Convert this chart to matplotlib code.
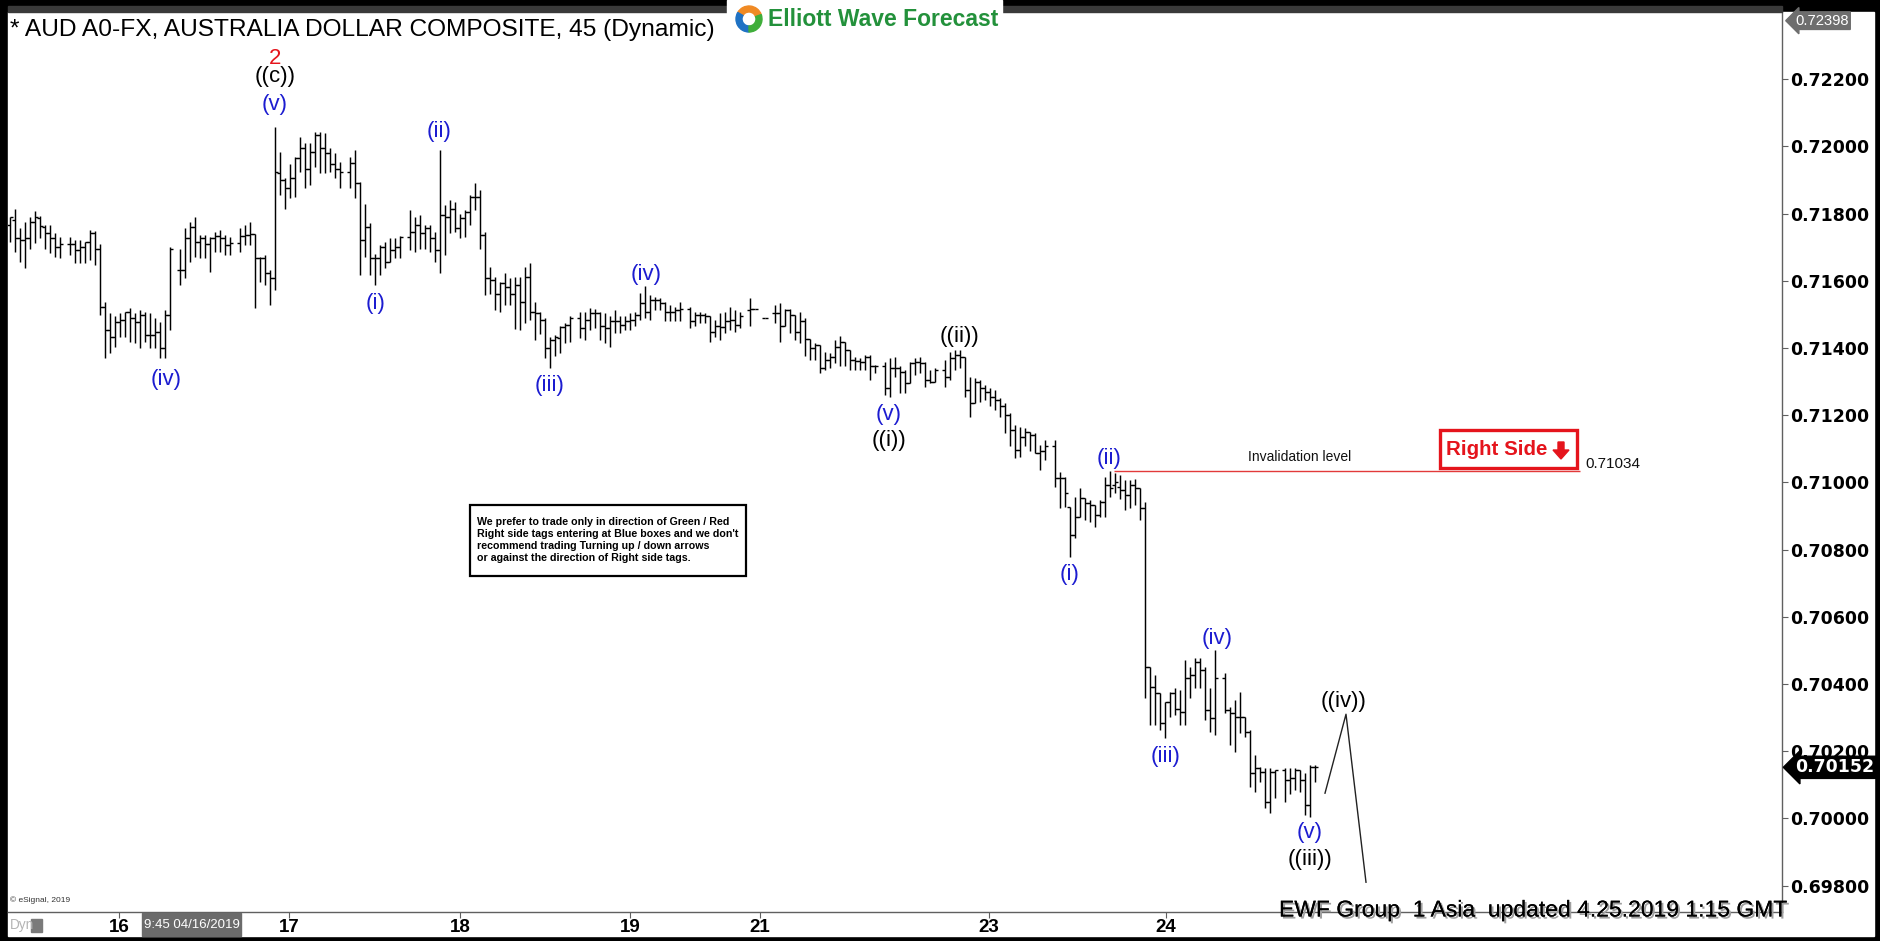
import matplotlib
matplotlib.use('Agg')
import matplotlib.pyplot as plt
import matplotlib.patheffects as pe
from matplotlib import font_manager
from matplotlib.patches import Rectangle, Polygon, Wedge
import numpy as np

W, H = 1881, 941

# 45 min OHLC bars, price x 1e5, None = empty slot
high_pts = [
    71791, 71815, 71756, 71776, 71791, 71807, 71793, 71766, 71766, 71741,
    71731, None, 71731, 71721, 71721, 71716, 71751, 71749, 71711, 71538,
    71503, 71495, 71503, 71508, 71518, 71503, 71513, 71508, 71503, 71488,
    71478, 71513, 71701, None, 71696, 71756, 71776, 71791, 71736, 71736,
    71731, 71746, 71751, 71736, 71731, None, 71756, 71766, 71776, 71739,
    71672, 71676, 71632, 72058, 71984, 71905, 71949, 71969, 72029, 72009,
    72009, 72044, 72044, 72039, 71994, 71979, 71954, None, 71969, 71989,
    71895, 71830, 71771, 71681, 71706, 71716, 71726, 71726, 71733, None,
    71810, 71791, 71796, 71766, 71766, 71746, 71989, 71825, 71840, 71835,
    71800, 71810, 71855, 71890, 71870, 71746, 71642, 71612, 71597, 71622,
    71607, 71612, 71612, 71642, 71652, 71538, 71508, 71488, 71433, 71439,
    71464, 71474, 71494, None, 71508, 71508, 71518, 71515, 71508, 71504,
    71494, 71513, 71494, 71494, 71504, 71508, 71563, 71585, 71558, 71553,
    71548, 71538, 71528, 71523, 71538, None, 71523, 71508, 71508, 71504,
    71494, 71484, 71504, 71508, 71523, 71513, 71508, None, 71548, 71515,
    None, 71489, None, 71528, 71533, 71515, 71515, 71499, 71508, 71489,
    71426, 71416, 71409, 71389, 71384, 71424, 71436, 71419, 71394, 71374,
    71369, 71379, 71379, 71350, None, 71359, 71369, 71374, 71345, 71335,
    71359, 71369, 71374, 71359, 71335, 71340, None, 71364, 71389, 71394,
    71394, 71374, 71315, 71310, 71305, 71290, 71280, 71275, 71250, 71235,
    71206, 71171, 71166, 71161, 71151, 71146, 71111, 71126, None, 71126,
    71032, 71017, 70928, 70958, 70983, 70953, 70948, 70933, 70948, 71017,
    71034, 71027, 71022, 71007, 71007, 71009, 70982, 70942, 70451, 70427,
    70372, 70347, 70377, 70387, 70382, 70471, 70451, 70476, 70476, 70451,
    70387, 70501, None, 70432, 70332, 70352, 70377, 70303, 70263, 70189,
    70154, 70149, 70149, 70144, None, 70149, 70149, 70149, 70144, 70134,
    70159, 70159,
]
low_pts = [
    71716, 71686, 71657, 71637, 71696, 71713, 71726, 71696, 71683, 71672,
    71667, None, 71676, 71654, 71654, 71654, 71662, 71647, 71498, 71369,
    71384, 71404, 71433, 71433, 71419, 71414, 71399, 71419, 71399, 71399,
    71369, 71369, 71453, None, 71587, 71607, 71657, 71672, 71667, 71667,
    71627, 71686, 71686, 71676, 71676, None, 71686, 71706, 71706, 71518,
    71597, 71587, 71528, 71572, 71855, 71815, 71845, 71850, 71924, 71875,
    71885, 71939, 71920, 71920, 71924, 71905, 71875, None, 71875, 71845,
    71617, 71672, 71617, 71587, 71617, 71637, 71657, 71667, 71667, None,
    71691, 71686, 71696, 71696, 71686, 71657, 71622, 71676, 71741, 71746,
    71726, 71731, 71766, 71810, 71696, 71557, 71562, 71513, 71508, 71528,
    71528, 71458, 71453, 71473, 71483, 71424, 71443, 71369, 71339, 71375,
    71384, 71414, 71419, None, 71429, 71424, 71454, 71459, 71424, 71414,
    71404, 71444, 71444, 71454, 71454, 71464, 71484, 71489, 71484, 71513,
    71513, 71479, 71479, 71479, 71479, None, 71459, 71464, 71474, 71474,
    71419, 71434, 71424, 71444, 71454, 71449, 71459, None, 71464, 71515,
    None, 71489, None, 71474, 71419, 71464, 71444, 71424, 71414, 71375,
    71365, 71365, 71325, 71335, 71340, 71355, 71345, 71345, 71335, 71335,
    71335, 71335, 71305, 71325, None, 71260, 71255, 71315, 71265, 71265,
    71295, 71320, 71325, 71285, 71295, 71300, None, 71285, 71305, 71335,
    71340, 71255, 71196, 71235, 71240, 71245, 71226, 71216, 71196, 71146,
    71107, 71072, 71077, 71107, 71092, 71087, 71037, 71067, None, 70987,
    70923, 70928, 70779, 70834, 70898, 70888, 70883, 70868, 70898, 70898,
    70958, 70968, 70952, 70918, 70923, 70933, 70888, 70357, 70278, 70278,
    70263, 70238, 70303, 70308, 70278, 70278, 70357, 70387, 70387, 70292,
    70258, 70248, None, 70313, 70218, 70199, 70253, 70243, 70094, 70080,
    70109, 70030, 70015, 70060, None, 70050, 70074, 70084, 70080, 70010,
    70005, 70109,
]
open_pts = [
    71766, 71781, 71726, 71721, 71726, 71776, 71786, 71761, 71741, 71726,
    71701, None, 71711, 71711, 71691, 71701, 71716, 71741, 71696, 71523,
    71453, 71433, 71478, 71483, 71508, 71488, 71478, 71498, 71438, 71438,
    71448, 71399, 71498, None, 71632, 71632, 71726, 71761, 71716, 71726,
    71711, 71726, 71733, 71726, 71706, None, 71713, 71733, 71736, 71739,
    71667, 71667, 71622, 71607, 71920, 71900, 71875, 71905, 71964, 71994,
    71934, 71984, 72034, 71994, 71979, 71949, 71934, None, 71924, 71951,
    71890, 71721, 71761, 71667, 71667, 71701, 71657, 71691, 71701, None,
    71731, 71746, 71766, 71741, 71756, 71726, 71691, 71796, 71791, 71815,
    71756, 71786, 71805, 71850, 71850, 71736, 71607, 71602, 71562, 71592,
    71582, 71562, 71587, 71538, 71612, 71508, 71503, 71483, 71399, 71424,
    71429, 71462, 71469, None, 71489, 71459, 71484, 71504, 71504, 71464,
    71459, 71479, 71479, 71469, 71479, 71484, 71499, 71533, 71508, 71543,
    71543, 71533, 71508, 71508, 71513, None, 71515, 71479, 71499, 71499,
    71494, 71449, 71464, 71462, 71479, 71484, 71469, None, 71513, 71515,
    None, 71489, None, 71504, 71504, 71464, 71513, 71499, 71449, 71479,
    71426, 71399, 71409, 71340, 71365, 71374, 71404, 71419, 71394, 71364,
    71362, 71359, 71372, 71347, None, 71345, 71280, 71340, 71340, 71330,
    71295, 71354, 71359, 71354, 71305, 71300, None, 71335, 71315, 71369,
    71379, 71374, 71275, 71235, 71300, 71280, 71270, 71255, 71245, 71226,
    71201, 71156, 71097, 71136, 71151, 71141, 71087, 71092, None, 71107,
    71012, 71012, 70928, 70844, 70898, 70953, 70938, 70933, 70903, 70943,
    70993, 70993, 70987, 70977, 70962, 70992, 70982, 70923, 70451, 70392,
    70372, 70283, 70347, 70372, 70327, 70318, 70417, 70427, 70466, 70441,
    70322, 70298, None, 70417, 70322, 70313, 70303, 70303, 70258, 70134,
    70149, 70139, 70050, 70139, None, 70144, 70114, 70119, 70144, 70114,
    70040, 70154,
]
close_pts = [
    71789, 71726, 71721, 71726, 71776, 71791, 71763, 71741, 71726, 71701,
    71711, None, 71711, 71691, 71701, 71716, 71741, 71696, 71523, 71453,
    71433, 71478, 71483, 71508, 71488, 71478, 71498, 71438, 71438, 71448,
    71399, 71498, 71696, None, 71632, 71726, 71761, 71716, 71726, 71711,
    71726, 71733, 71726, 71706, 71713, None, 71733, 71736, 71739, 71667,
    71667, 71622, 71607, 71924, 71900, 71875, 71905, 71964, 71994, 71934,
    71984, 72034, 71994, 71979, 71949, 71934, 71924, None, 71951, 71890,
    71721, 71761, 71667, 71667, 71701, 71657, 71691, 71701, 71731, None,
    71746, 71766, 71741, 71756, 71726, 71691, 71796, 71791, 71815, 71756,
    71786, 71805, 71850, 71850, 71736, 71607, 71602, 71562, 71592, 71582,
    71562, 71587, 71538, 71612, 71508, 71503, 71483, 71399, 71424, 71433,
    71462, 71469, 71489, None, 71459, 71484, 71504, 71504, 71464, 71459,
    71479, 71479, 71469, 71479, 71484, 71499, 71533, 71508, 71543, 71543,
    71533, 71508, 71508, 71513, 71515, None, 71479, 71499, 71499, 71494,
    71449, 71464, 71462, 71479, 71484, 71469, 71494, None, 71515, 71515,
    None, 71489, None, 71504, 71464, 71513, 71499, 71449, 71479, 71426,
    71399, 71409, 71340, 71365, 71374, 71404, 71419, 71394, 71364, 71362,
    71359, 71372, 71347, 71345, None, 71280, 71340, 71340, 71330, 71295,
    71354, 71359, 71354, 71305, 71300, 71335, None, 71315, 71369, 71379,
    71374, 71275, 71235, 71300, 71280, 71270, 71255, 71245, 71226, 71201,
    71156, 71097, 71136, 71151, 71141, 71087, 71092, 71107, None, 71012,
    71012, 70968, 70844, 70898, 70953, 70938, 70933, 70903, 70943, 70993,
    70983, 71002, 70977, 70962, 70992, 70982, 70923, 70451, 70392, 70372,
    70283, 70347, 70372, 70327, 70318, 70417, 70427, 70466, 70441, 70322,
    70298, 70417, None, 70322, 70313, 70303, 70303, 70258, 70134, 70149,
    70139, 70050, 70139, 70144, None, 70114, 70119, 70144, 70114, 70040,
    70154, 70152,
]

day_labels = ['16', '17', '18', '19', '21', '23', '24']
day_slots = [22.8, 56.8, 91, 125, 151, 196.8, 232.2]
price_ticks = [0.722, 0.720, 0.718, 0.716, 0.714, 0.712, 0.710,
               0.708, 0.706, 0.704, 0.702, 0.700, 0.698]

wave_text = ['2', '((c))', '(v)', '(iv)', '(i)', '(ii)', '(iii)', '(iv)', '(v)',
             '((i))', '((ii))', '(i)', '(ii)', '(iii)', '(iv)', '(v)', '((iii))', '((iv))']
wave_x = [54, 54, 54, 32.2, 74.2, 86.8, 109, 128.2, 176.8,
          176.8, 190.8, 213, 220.8, 232.2, 242.4, 261, 261, 267.8]
wave_y = [0.72262, 0.72207, 0.72126, 0.71305, 0.71531, 0.72043, 0.71287, 0.71620, 0.71201,
          0.71126, 0.71433, 0.70727, 0.71072, 0.70185, 0.70536, 0.69957, 0.69877, 0.70347]
wave_kind = ['r', 'k', 'b', 'b', 'b', 'b', 'b', 'b', 'b',
             'k', 'k', 'b', 'b', 'b', 'b', 'b', 'k', 'k']

invalidation = 0.71034
inval_from, inval_to = 221.8, 315
proj_x = [264, 268.2, 272.2]
proj_y = [0.70075, 0.70310, 0.69810]
top_price = 0.72398
last_price = 0.70152

_names = {f.name for f in font_manager.fontManager.ttflist}
NARROW = 'Liberation Sans Narrow' if 'Liberation Sans Narrow' in _names else None
ARIAL = 'Liberation Sans'

BLUE = '#1c1cd0'
RED = '#e5141c'
colors = {'r': RED, 'k': 'black', 'b': BLUE}


def fx(x):
    return x / W


def fy(y):
    return 1 - y / H


def cond(size):
    # narrow face if present, otherwise regular face shrunk to the same width
    if NARROW:
        return NARROW, size
    return ARIAL, size * 0.82


fig = plt.figure(figsize=(W / 100, H / 100), dpi=100, facecolor='black')
# white chart window inside the black frame
fig.add_artist(Rectangle((fx(8), fy(936)), fx(1874 - 8), (936 - 12) / H,
                         transform=fig.transFigure, color='white', zorder=0))
fig.add_artist(Rectangle((fx(8), fy(12)), fx(1782 - 8), 6 / H,
                         transform=fig.transFigure, color='#3a3a3a', zorder=1))

ax = fig.add_axes([fx(8), fy(912), fx(1782 - 8), (912 - 12) / H])
ax.set_facecolor('white')
ax.set_xlim(0.6, 355.4)
ax.set_ylim(0.697214, 0.72400)

x = np.arange(1, len(high_pts) + 1)
hi = np.array(high_pts, dtype=float) / 1e5
lo = np.array(low_pts, dtype=float) / 1e5
op = np.array(open_pts, dtype=float) / 1e5
cl = np.array(close_pts, dtype=float) / 1e5
ok = ~np.isnan(hi)
ax.vlines(x[ok], lo[ok], hi[ok], color='black', lw=1.05)
ax.hlines(op[ok], x[ok] - 0.55, x[ok], color='black', lw=1.0)
ax.hlines(cl[ok], x[ok], x[ok] + 0.55, color='black', lw=1.0)

# axes
for s in ['top', 'left']:
    ax.spines[s].set_visible(False)
ax.spines['right'].set_color('#606060')
ax.spines['bottom'].set_color('#606060')
ax.spines['right'].set_linewidth(1.0)
ax.spines['bottom'].set_linewidth(1.0)
ax.yaxis.tick_right()
ax.set_yticks(price_ticks)
ax.set_yticklabels(['%.5f' % p for p in price_ticks])
ax.tick_params(axis='y', length=4, width=0.8, color='#606060', pad=2,
               labelsize=12.5)
for t in ax.get_yticklabels():
    t.set_fontweight('bold')
    t.set_family('DejaVu Sans')
ax.set_xticks(day_slots)
ax.set_xticklabels(day_labels)
fam, sz = cond(16.5)
ax.tick_params(axis='x', length=4, width=0.8, color='#606060', pad=1,
               labelsize=sz)
for t in ax.get_xticklabels():
    t.set_fontweight('bold')
    t.set_family(fam)

# wave labels
for t, wx, wy, k in zip(wave_text, wave_x, wave_y, wave_kind):
    ax.text(wx, wy, t, color=colors[k], fontsize=16, family=ARIAL,
            ha='center', va='center')

# invalidation level
ax.hlines(invalidation, inval_from, inval_to, color='#e23a3a', lw=1.0)
ax.text(259, 0.71076, 'Invalidation level', fontsize=10, family=ARIAL,
        ha='center', va='center', color='#111111')
ax.text(316, invalidation, '%.5f' % invalidation, fontsize=11, family=ARIAL,
        ha='left', va='bottom', color='#111111')

# projected path
ax.plot(proj_x, proj_y, color='#222222', lw=1.0)

# price markers on axis
ax.annotate('%.5f' % last_price, xy=(1.0, last_price),
            xycoords=('axes fraction', 'data'), xytext=(13, 0),
            textcoords='offset pixels', ha='left', va='center',
            color='white', fontsize=12.5, fontweight='bold', family='DejaVu Sans',
            bbox=dict(boxstyle='larrow,pad=0.12', fc='black', ec='black'),
            annotation_clip=False)
fam, sz = cond(13)
ax.annotate('%.5f' % top_price, xy=(1.0, top_price),
            xycoords=('axes fraction', 'data'), xytext=(13, -8),
            textcoords='offset pixels', ha='left', va='center',
            color='white', fontsize=sz, family=fam,
            bbox=dict(boxstyle='larrow,pad=0.12', fc='#6e6e6e', ec='#6e6e6e'),
            annotation_clip=False)

# title
fam, sz = cond(21.5)
fig.text(fx(10), fy(30), '* AUD A0-FX, AUSTRALIA DOLLAR COMPOSITE, 45 (Dynamic)',
         fontsize=sz, family=fam, color='black', ha='left', va='center')

# logo
fig.add_artist(Rectangle((fx(727), fy(36)), fx(1002 - 727), 36 / H,
                         transform=fig.transFigure, color='white', zorder=2))
cx, cy, r = 749, 19, 13
for a0, a1, c in [(20, 150, '#f08a24'), (150, 270, '#1f72c4'), (270, 380, '#3fae3a')]:
    fig.add_artist(Wedge((cx, H - cy), r, a0, a1, width=6, color=c,
                         transform=None, zorder=3))
fig.text(fx(768), fy(20), 'Elliott Wave Forecast', fontsize=16.5, family=ARIAL,
         fontweight='bold', color='#23913b', ha='left', va='center', zorder=4)

# right side tag
fig.add_artist(Rectangle((fx(1440), fy(468)), fx(1577 - 1440), 38 / H,
                         transform=fig.transFigure, fc='white', ec=RED, lw=2.4, zorder=3))
fam, sz = cond(18)
fig.text(fx(1446), fy(449), 'Right Side', fontsize=sz, family=fam,
         fontweight='bold', color=RED, ha='left', va='center', zorder=4)
arrow = [(1558, 442), (1564, 442), (1564, 450), (1569, 450), (1561, 459),
         (1553, 450), (1558, 450)]
fig.add_artist(Polygon([(fx(a), fy(b)) for a, b in arrow], closed=True,
                       transform=fig.transFigure, color=RED, zorder=4))

# note box
fig.add_artist(Rectangle((fx(470), fy(576)), fx(746 - 470), 71 / H,
                         transform=fig.transFigure, fc='white', ec='black', lw=1.6, zorder=3))
fig.text(fx(477), fy(540),
         "We prefer to trade only in direction of Green / Red\n"
         "Right side tags entering at Blue boxes and we don't\n"
         "recommend trading Turning up / down arrows\n"
         "or against the direction of Right side tags.",
         fontsize=7.7, family=ARIAL, fontweight='bold', linespacing=1.25,
         ha='left', va='center', zorder=4)

# footer bits
fig.text(fx(10), fy(900), '\u00a9 eSignal, 2019', fontsize=6, family=ARIAL,
         color='#333333', ha='left', va='center')
fam, sz = cond(12)
fig.text(fx(10), fy(925), 'Dyn', fontsize=sz, family=fam, color='#b4b4b4',
         ha='left', va='center')
fig.add_artist(Rectangle((fx(31), fy(932)), fx(11), 13 / H,
                         transform=fig.transFigure, color='#7a7a7a', zorder=3))
fig.add_artist(Rectangle((fx(142), fy(936)), fx(241 - 142), 23 / H,
                         transform=fig.transFigure, color='#6b6b6b', zorder=3))
fam, sz = cond(11.6)
fig.text(fx(191.5), fy(925), '9:45 04/16/2019', fontsize=sz, family=fam,
         color='white', ha='center', va='center', zorder=4)
fig.text(fx(1279), fy(910), 'EWF Group  1 Asia  updated 4.25.2019 1:15 GMT',
         fontsize=16.5, family=ARIAL, color='black', ha='left', va='center', zorder=5,
         path_effects=[pe.withSimplePatchShadow(offset=(1.5, -1.5),
                                                shadow_rgbFace='#a0a0a0', alpha=1.0),
                       pe.Normal()])

fig.savefig('out.png', dpi=100, facecolor='black')
